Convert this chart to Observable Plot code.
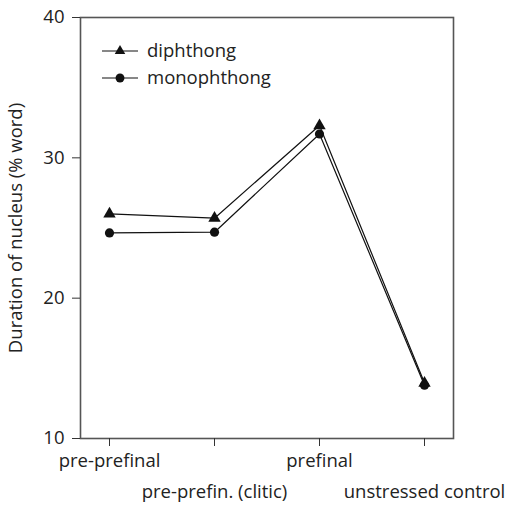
<!DOCTYPE html>
<html>
<head>
<meta charset="utf-8">
<script src="https://cdn.jsdelivr.net/npm/d3@7"></script>
<script src="https://cdn.jsdelivr.net/npm/@observablehq/plot@0.6"></script>
<style>
  html, body { margin: 0; padding: 0; background: #fff; }
  #chart { width: 514px; height: 505px; }
</style>
</head>
<body>
<div id="chart"></div>
<script>
const categories = ["pre-prefinal", "pre-prefin. (clitic)", "prefinal", "unstressed control"];
const seriesNames = ["diphthong", "monophthong"];
const diphthong = [26.0, 25.7, 32.3, 13.95];
const monophthong = [24.65, 24.7, 31.7, 13.8];
const yTicks = [10, 20, 30, 40];
const yLabel = "Duration of nucleus (% word)";

const FONT = "'Open Sans', sans-serif";
const FS = 18.5;

const rows = [];
categories.forEach((c, i) => {
  rows.push({category: c, series: seriesNames[0], value: diphthong[i]});
  rows.push({category: c, series: seriesNames[1], value: monophthong[i]});
});
const symbolFor = {diphthong: "triangle", monophthong: "circle"};

const evenCats = categories.filter((d, i) => i % 2 === 0);
const oddCats = categories.filter((d, i) => i % 2 === 1);

const chart = Plot.plot({
  width: 514,
  height: 505,
  marginLeft: 80,
  marginRight: 61,
  marginTop: 17,
  marginBottom: 67,
  style: {fontFamily: FONT, fontSize: FS + "px", color: "#222", background: "#fff"},
  x: {type: "point", domain: categories, padding: 0.26},
  y: {domain: [10, 40]},
  marks: [
    Plot.frame({stroke: "#555", strokeWidth: 1.6}),
    Plot.axisY({ticks: yTicks, tickSize: 8, tickPadding: 8, fontSize: FS, stroke: "#333",
      label: yLabel, labelAnchor: "center", labelArrow: "none", labelOffset: 72}),
    Plot.axisX({ticks: evenCats, tickSize: 8, tickPadding: 7, fontSize: FS, stroke: "#333", label: null}),
    Plot.axisX({ticks: oddCats, tickSize: 8, tickPadding: 38, fontSize: FS, stroke: "#333", label: null}),
    Plot.axisX({ticks: oddCats, tickSize: 8, tickFormat: () => "", stroke: "#333", label: null}),
    Plot.line(rows, {x: "category", y: "value", z: "series", stroke: "#111", strokeWidth: 1.2}),
    Plot.dot(rows, {x: "category", y: "value", symbol: d => symbolFor[d.series], fill: "#111", r: 4.6})
  ]
});
document.getElementById("chart").appendChild(chart);

// in-plot legend
const svg = d3.select(chart);
const leg = svg.append("g").attr("font-family", FONT).attr("font-size", FS).attr("fill", "#222")
  .attr("text-anchor", "start");
seriesNames.forEach((name, i) => {
  const y = 51 + i * 27;
  const g = leg.append("g").attr("transform", `translate(0,${y})`);
  g.append("line").attr("x1", 102).attr("x2", 138).attr("y1", 0).attr("y2", 0)
    .attr("stroke", "#111").attr("stroke-width", 1.2);
  const sym = symbolFor[name] === "triangle" ? d3.symbolTriangle : d3.symbolCircle;
  g.append("path").attr("d", d3.symbol(sym, symbolFor[name] === "triangle" ? 48 : 62)())
    .attr("transform", "translate(120,0)").attr("fill", "#111");
  g.append("text").attr("x", 147).attr("y", 0).attr("dy", "0.35em")
    .attr("text-anchor", "start").text(name);
});
</script>
</body>
</html>
